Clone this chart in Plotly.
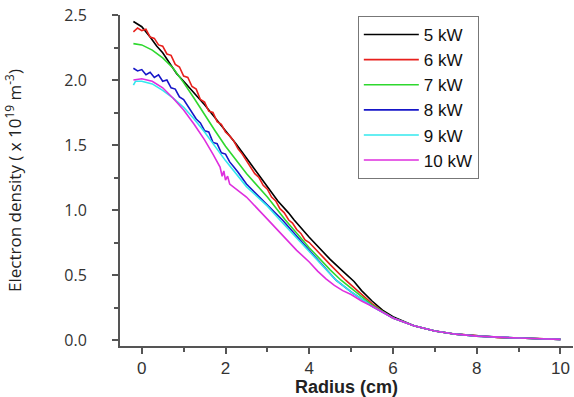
import plotly.graph_objects as go

# Radius (cm) and electron density (x1e19 m^-3)
x_black = [-0.2, -0.1, 0.0, 0.2, 0.36, 0.5, 0.7, 0.83, 1.0, 1.25, 1.5, 1.75, 2.0, 2.25, 2.5, 2.75, 3.0, 3.25, 3.5, 3.64, 4.0, 4.32, 4.5, 4.8, 5.07, 5.25, 5.5, 5.75, 6.0, 6.5, 7.0, 7.5, 8.0, 8.5, 9.0, 9.5, 10.0]
y_black = [2.45, 2.43, 2.41, 2.33, 2.26, 2.21, 2.11, 2.05, 1.99, 1.90, 1.81, 1.71, 1.61, 1.51, 1.40, 1.29, 1.18, 1.07, 0.98, 0.923, 0.79, 0.68, 0.62, 0.53, 0.45, 0.38, 0.30, 0.23, 0.18, 0.11, 0.07, 0.045, 0.03, 0.02, 0.015, 0.01, 0.005]

x_red = [-0.2, -0.1, 0.0, 0.1, 0.2, 0.3, 0.4, 0.5, 0.6, 0.7, 0.8, 0.9, 1.0, 1.1, 1.2, 1.3, 1.4, 1.5, 1.6, 1.7, 1.8, 1.9, 2.0, 2.1, 2.2, 2.3, 2.4, 2.5, 2.6, 2.7, 2.8, 2.9, 3.0, 3.1, 3.2, 3.3, 3.4, 3.51, 3.6, 3.7, 3.8, 3.9, 4.0, 4.2, 4.5, 4.87, 5.25, 5.5, 5.75, 6.0, 6.5, 7.0, 7.5, 8.0, 8.5, 9.0, 9.5, 10.0]
y_red = [2.37, 2.40, 2.38, 2.39, 2.33, 2.32, 2.27, 2.26, 2.20, 2.19, 2.12, 2.10, 2.03, 2.02, 1.95, 1.93, 1.85, 1.83, 1.76, 1.75, 1.68, 1.66, 1.60, 1.57, 1.53, 1.47, 1.43, 1.38, 1.34, 1.28, 1.25, 1.19, 1.16, 1.10, 1.07, 1.01, 0.98, 0.923, 0.90, 0.85, 0.82, 0.77, 0.75, 0.68, 0.58, 0.46, 0.35, 0.28, 0.22, 0.17, 0.11, 0.07, 0.045, 0.03, 0.02, 0.015, 0.01, 0.005]

x_green = [-0.2, 0.0, 0.25, 0.5, 0.75, 1.0, 1.25, 1.5, 1.75, 2.0, 2.5, 3.0, 3.43, 4.0, 4.5, 4.76, 5.0, 5.5, 6.0, 6.5, 7.0, 7.5, 8.0, 8.5, 9.0, 9.5, 10.0]
y_green = [2.28, 2.27, 2.23, 2.17, 2.09, 1.98, 1.86, 1.73, 1.61, 1.49, 1.28, 1.10, 0.923, 0.71, 0.54, 0.46, 0.40, 0.27, 0.17, 0.11, 0.07, 0.045, 0.03, 0.02, 0.015, 0.01, 0.005]

x_blue = [-0.2, -0.1, 0.0, 0.1, 0.2, 0.3, 0.4, 0.5, 0.6, 0.7, 0.8, 0.9, 1.0, 1.1, 1.2, 1.3, 1.4, 1.5, 1.6, 1.7, 1.8, 1.9, 2.0, 2.1, 2.2, 2.3, 2.5, 3.0, 3.36, 4.0, 4.64, 5.0, 5.5, 6.0, 6.5, 7.0, 7.5, 8.0, 8.5, 9.0, 9.5, 10.0]
y_blue = [2.09, 2.07, 2.08, 2.04, 2.06, 2.02, 2.04, 1.99, 2.00, 1.94, 1.93, 1.87, 1.85, 1.80, 1.76, 1.70, 1.67, 1.61, 1.60, 1.52, 1.51, 1.44, 1.43, 1.37, 1.33, 1.29, 1.20, 1.04, 0.923, 0.69, 0.46, 0.37, 0.26, 0.17, 0.11, 0.07, 0.045, 0.03, 0.02, 0.015, 0.01, 0.005]

x_cyan = [-0.2, -0.15, 0.0, 0.25, 0.5, 0.75, 1.0, 1.25, 1.5, 1.75, 2.0, 2.5, 3.0, 3.3, 4.0, 4.64, 5.0, 5.5, 6.0, 6.5, 7.0, 7.5, 8.0, 8.5, 9.0, 9.5, 10.0]
y_cyan = [1.96, 1.99, 1.99, 1.97, 1.92, 1.86, 1.79, 1.70, 1.60, 1.49, 1.38, 1.18, 1.03, 0.923, 0.68, 0.46, 0.37, 0.26, 0.17, 0.11, 0.07, 0.045, 0.03, 0.02, 0.015, 0.01, 0.005]

x_magenta = [-0.2, 0.0, 0.25, 0.5, 0.75, 1.0, 1.25, 1.5, 1.7, 1.8, 1.87, 1.92, 1.96, 2.0, 2.05, 2.1, 2.5, 3.0, 3.29, 3.7, 4.0, 4.2, 4.4, 4.6, 4.8, 5.0, 5.25, 5.5, 6.0, 6.5, 7.0, 7.5, 8.0, 8.5, 9.0, 9.5, 10.0]
y_magenta = [2.00, 2.01, 1.99, 1.94, 1.86, 1.77, 1.66, 1.54, 1.43, 1.37, 1.33, 1.26, 1.30, 1.23, 1.26, 1.20, 1.10, 0.93, 0.83, 0.69, 0.60, 0.53, 0.47, 0.42, 0.38, 0.35, 0.30, 0.26, 0.17, 0.11, 0.07, 0.045, 0.03, 0.02, 0.015, 0.01, 0.005]

names = ["5 kW", "6 kW", "7 kW", "8 kW", "9 kW", "10 kW"]
colors = ["#000000", "#e8201c", "#2ed82e", "#1616c8", "#33e8ee", "#de2ede"]
series = [(x_black, y_black), (x_red, y_red), (x_green, y_green),
          (x_blue, y_blue), (x_cyan, y_cyan), (x_magenta, y_magenta)]

x_ticks = [0, 2, 4, 6, 8, 10]
y_ticks = [0.0, 0.5, 1.0, 1.5, 2.0, 2.5]
y_labels = ["0.0", "0.5", "1.0", "1.5", "2.0", "2.5"]

fig = go.Figure()
for (xs, ys), n, c in zip(series, names, colors):
    fig.add_trace(go.Scatter(x=xs, y=ys, mode="lines", name=n,
                             line=dict(color=c, width=1.6)))

axis_common = dict(showgrid=False, zeroline=False, showline=True,
                   linecolor="#555555", linewidth=2, ticks="outside",
                   tickcolor="#555555", tickwidth=1.5, ticklen=6)

fig.update_layout(
    width=574, height=397,
    margin=dict(l=120, r=1, t=15, b=51),
    paper_bgcolor="white", plot_bgcolor="white",
    showlegend=True,
    legend=dict(x=0.525, y=0.997, xanchor="left", yanchor="top",
                bordercolor="#777777", borderwidth=1, bgcolor="white",
                font=dict(family="Liberation Sans, Arial", size=17, color="#111111"),
                tracegroupgap=0, itemwidth=55),
    xaxis=dict(range=[-0.52, 10.3], tickvals=x_ticks,
               tickfont=dict(family="Liberation Sans, Arial", size=17, color="#333333"),
               title=dict(text="<b>Radius (cm)</b>", standoff=3,
                          font=dict(family="Liberation Sans, Arial", size=18, color="#222222")),
               minor=dict(dtick=1, ticks="outside", ticklen=4, tickcolor="#555555", tickwidth=1.5),
               **axis_common),
    yaxis=dict(range=[-0.046, 2.5], tickvals=y_ticks, ticktext=y_labels,
               ticklabelstandoff=22,
               tickfont=dict(family="Open Sans", size=16, color="#333333"),
               title=dict(text="Electron density ( x 10<sup>19</sup> m<sup>-3</sup>)", standoff=38,
                          font=dict(family="Open Sans", size=17, color="#222222")),
               minor=dict(dtick=0.25, ticks="outside", ticklen=4, tickcolor="#555555", tickwidth=1.5),
               **axis_common),
)

fig.write_html("out.html")
